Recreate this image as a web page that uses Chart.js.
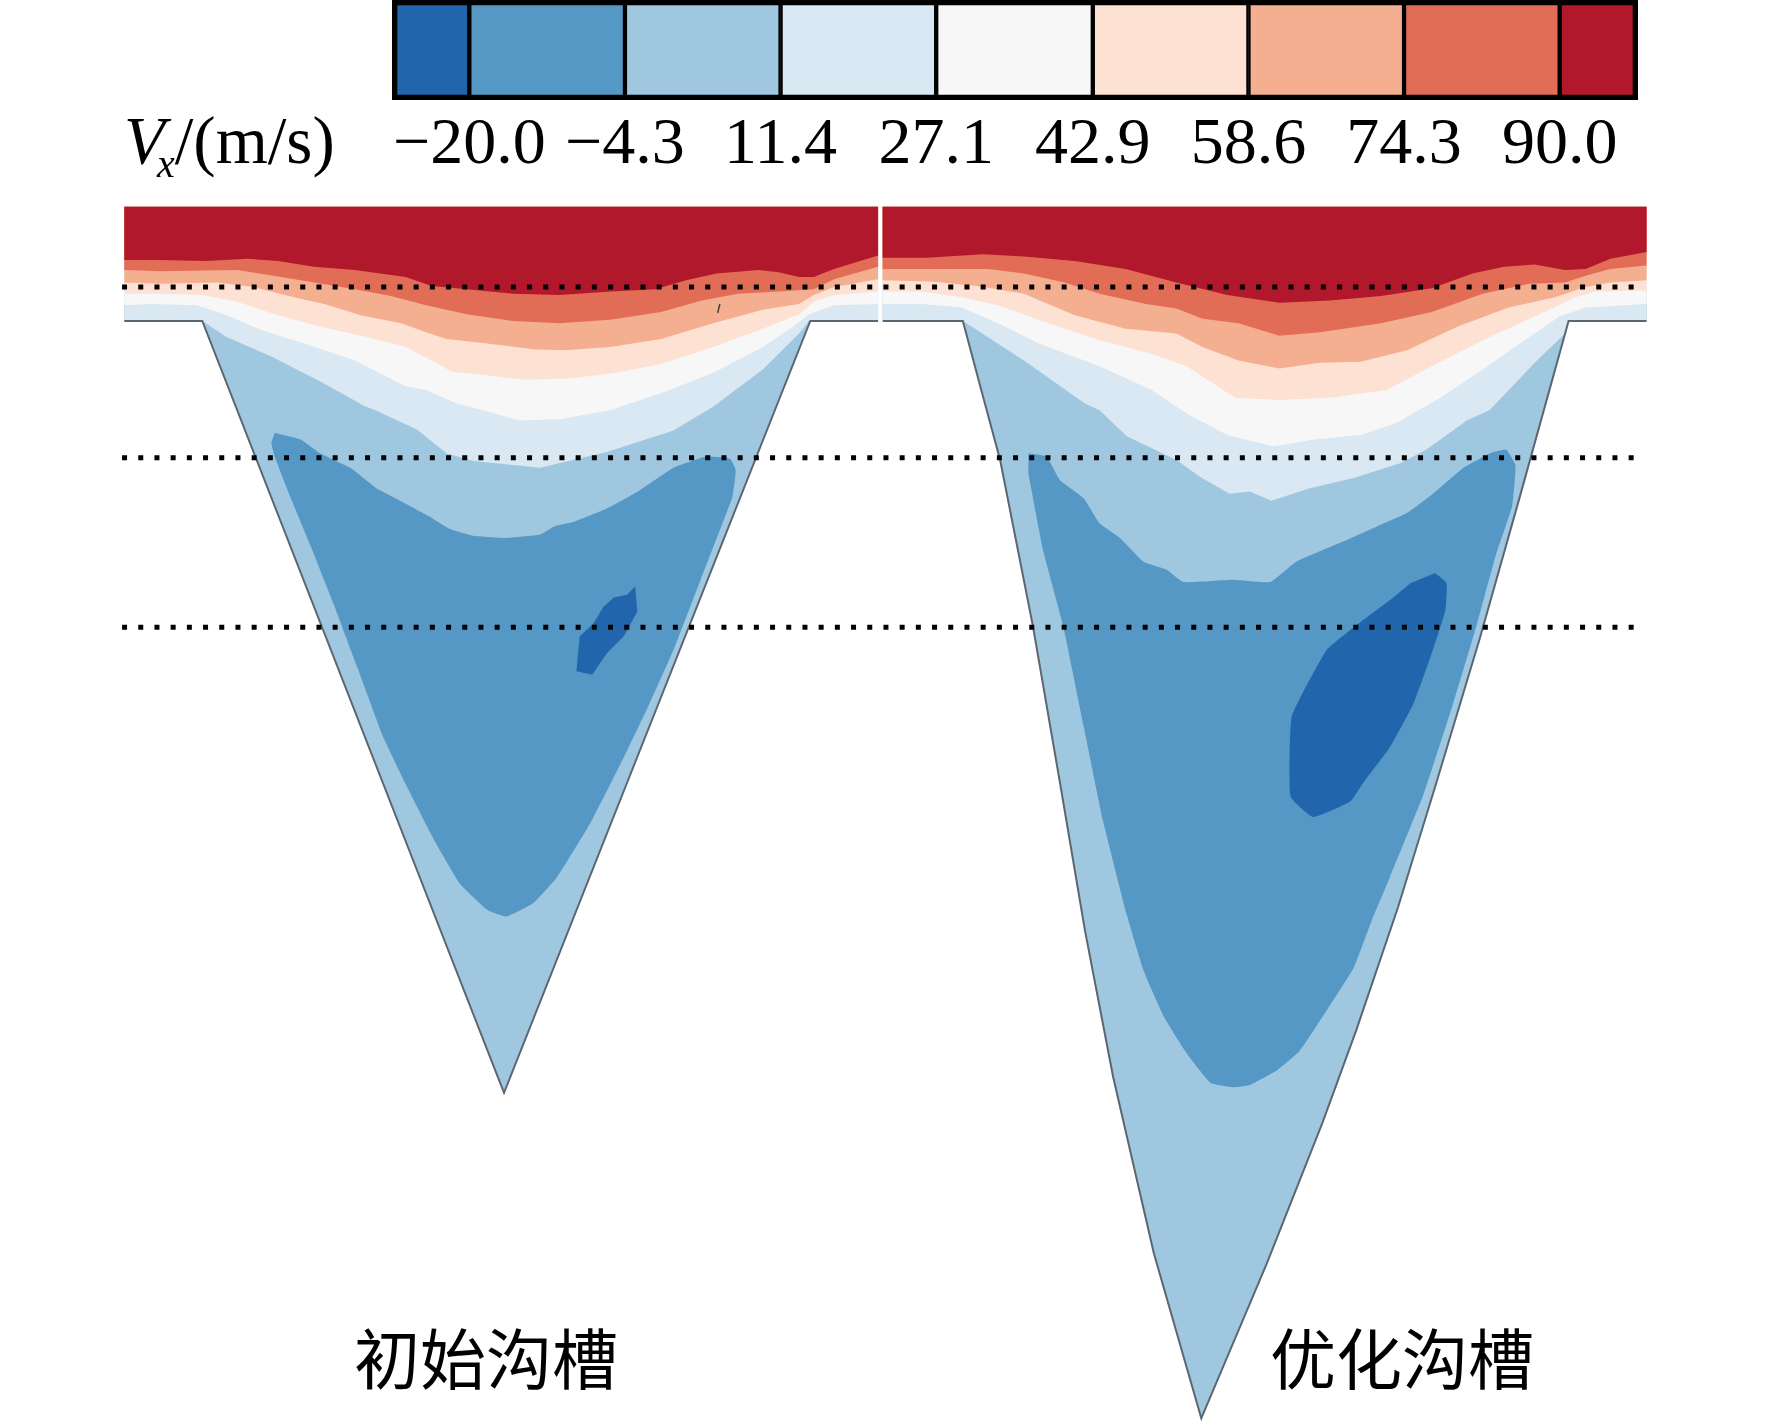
<!DOCTYPE html>
<html>
<head>
<meta charset="utf-8">
<script src="https://cdn.jsdelivr.net/npm/chart.js@4"></script>
<style>
  html, body { margin: 0; padding: 0; background: #fff; }
  #page { position: relative; width: 1772px; height: 1427px; overflow: hidden; }
  canvas { position: absolute; left: 0; top: 0; }
  .txt { position: absolute; white-space: nowrap; color: #000; line-height: 1; }
  .serif { font-family: "Liberation Serif", serif; font-size: 67px; }
  .serif sub { font-size: 40px; line-height: 0; vertical-align: -14px; margin-left: -8px; }
  .cjk { font-family: "Noto Sans CJK SC", sans-serif; font-size: 66px; }
</style>
</head>
<body>
<div id="page">
  <canvas id="contour" width="1772" height="1427"></canvas>
  <canvas id="colorbar" width="1772" height="200"></canvas>
  <div class="txt serif" style="left:124px;top:107px"><i>V</i><sub><i>x</i></sub>/(m/s)</div>
  <div class="txt cjk" style="left:354px;top:1322px">初始沟槽</div>
  <div class="txt cjk" style="left:1270px;top:1322px">优化沟槽</div>
</div>

<script>
// Colour bar: level values and the colour of each band
const barTicks  = [-20.0, -4.3, 11.4, 27.1, 42.9, 58.6, 74.3, 90.0];
const barEdges  = [-27.8, -20.0, -4.3, 11.4, 27.1, 42.9, 58.6, 74.3, 90.0, 97.9];
const barColors = ['#2166ac', '#5597c5', '#9fc7e0', '#d9e8f2', '#f7f7f7', '#fde1d3', '#f4af91', '#e26d56', '#b2182b'];

// Contours: [spanwise position, depth below the wall]
// Initial groove
const wallL = [[110,0],[179,0],[446,683],[717,0],[777,0]];
const redL  = [[110,-54],[142,-54],[182,-53],[219,-55],[246,-53],[278,-48],[314,-45],[359,-39],[382,-31],[413,-28],[454,-24],[495,-23],[540,-26],[580,-28],[607,-36],[634,-42],[671,-45],[689,-43],[707,-39],[720,-39],[738,-46],[777,-58]];
const c1L   = [[110,-45],[142,-44],[210,-45],[242,-40],[278,-34],[314,-28],[346,-22],[377,-14],[413,-6],[454,0],[495,2],[540,-1],[585,-8],[621,-18],[653,-24],[689,-26],[720,-28],[738,-37],[777,-48]];
const c2L   = [[110,-34],[142,-33],[192,-34],[224,-30],[260,-21],[287,-15],[319,-5],[355,2],[377,10],[395,16],[431,20],[472,25],[499,26],[540,23],[585,16],[631,2],[675,-10],[707,-15],[720,-23],[738,-30],[777,-37]];
const c3L   = [[110,-24],[142,-24],[179,-23],[210,-17],[246,-5],[283,5],[323,14],[359,23],[382,35],[400,45],[431,48],[463,52],[504,51],[544,46],[585,38],[631,23],[675,7],[707,-6],[720,-17],[738,-23],[777,-26]];
const c4L   = [[110,-14],[133,-15],[174,-14],[201,-5],[228,7],[269,20],[314,35],[359,58],[377,61],[404,73],[431,80],[459,88],[495,87],[540,79],[585,64],[631,46],[675,23],[702,5],[716,-6],[738,-14],[777,-15]];
const c5L   = [[110,0],[179,0],[200,14],[241,32],[286,55],[322,75],[332,79],[369,96],[395,117],[419,124],[478,130],[507,123],[537,116],[596,97],[631,76],[675,43],[707,11],[716,0],[777,0]];
const c7L   = [[243,99],[266,105],[283,117],[310,130],[333,148],[354,159],[378,172],[398,184],[419,190],[448,192],[478,189],[490,182],[507,178],[537,166],[566,150],[596,130],[625,120],[646,122],[651,132],[648,156],[637,185],[620,229],[596,291],[575,338],[552,386],[522,445],[493,492],[472,515],[448,527],[431,521],[407,498],[384,459],[360,412],[339,368],[316,306],[295,250],[274,197],[257,156],[243,120],[240,108]];
const c8L   = [[562,235],[564,257],[552,279],[537,294],[524,313],[510,310],[513,279],[525,268],[534,253],[543,245],[555,242]];
const speckL = [[637,-15],[635,-7]];

// Optimised groove
const wallR = [[781,0],[852,0],[868,60],[885,123],[914,270],[938,409],[960,539],[985,669],[1021,825],[1063,971],[1121,834],[1170,710],[1200,628],[1237,519],[1270,412],[1310,279],[1345,155],[1388,0],[1457,0]];
const redR  = [[781,-56],[820,-56],[870,-59],[906,-57],[951,-53],[996,-46],[1041,-34],[1086,-23],[1132,-16],[1177,-18],[1222,-22],[1267,-29],[1303,-42],[1331,-48],[1358,-50],[1385,-45],[1403,-46],[1425,-55],[1457,-61]];
const c1R   = [[781,-46],[815,-46],[874,-46],[906,-42],[942,-34],[973,-24],[1014,-15],[1041,-11],[1064,-2],[1096,2],[1132,13],[1168,10],[1222,2],[1267,-8],[1312,-24],[1353,-33],[1385,-34],[1403,-40],[1425,-46],[1457,-49]];
const c2R   = [[781,-36],[824,-35],[865,-31],[906,-24],[951,-5],[996,7],[1041,11],[1064,23],[1096,35],[1132,42],[1168,37],[1204,36],[1245,26],[1290,5],[1335,-12],[1376,-21],[1403,-30],[1425,-34],[1457,-36]];
const c3R   = [[781,-26],[815,-26],[851,-21],[883,-14],[928,2],[973,17],[1019,29],[1050,40],[1073,55],[1093,68],[1132,70],[1177,68],[1227,61],[1267,40],[1312,17],[1358,-4],[1394,-21],[1412,-26],[1457,-27]];
const c4R   = [[781,-15],[815,-15],[851,-12],[883,2],[919,20],[973,40],[1019,61],[1050,82],[1086,101],[1127,111],[1163,105],[1204,101],[1236,90],[1276,67],[1312,43],[1349,17],[1380,-4],[1403,-12],[1457,-15]];
const c5R   = [[781,0],[852,0],[906,35],[960,73],[973,79],[997,102],[1041,123],[1062,138],[1088,153],[1106,151],[1125,159],[1159,148],[1198,139],[1239,126],[1262,114],[1298,88],[1318,79],[1360,35],[1385,11],[1388,0],[1457,0]];
const c7R   = [[910,117],[926,120],[938,141],[959,157],[973,179],[991,192],[1012,213],[1032,220],[1047,231],[1091,229],[1124,231],[1147,213],[1189,195],[1218,182],[1245,170],[1268,153],[1295,130],[1321,116],[1333,114],[1341,128],[1338,164],[1324,206],[1307,268],[1286,338],[1260,418],[1230,492],[1214,530],[1198,572],[1174,610],[1150,646],[1130,663],[1106,676],[1091,678],[1071,674],[1050,648],[1030,616],[1012,575],[997,525],[976,442],[959,359],[941,271],[923,203],[910,135]];
const c8R   = [[1270,223],[1280,232],[1279,256],[1268,291],[1251,338],[1230,377],[1206,409],[1195,425],[1162,439],[1142,421],[1143,350],[1174,291],[1198,271],[1230,247],[1248,232]];

// Sampling lines across both grooves
const probeDepths = [-30, 121, 271];
const probeSpan   = [108, 1450];
const topDepth = -101;

const toPts = list => list.map(([x, y]) => ({ x, y }));

// A band is everything between its lower contour and the top of the domain
const band = line => {
  const xl = line[0][0], xr = line[line.length - 1][0];
  return [...line, [xr, topDepth], [xl, topDepth]];
};

// Paint order: first in this list is at the back
const layers = [
  [band(wallL), barColors[2]], [band(c5L), barColors[3]], [band(c4L), barColors[4]],
  [band(c3L), barColors[5]], [band(c2L), barColors[6]], [band(c1L), barColors[7]],
  [band(redL), barColors[8]], [c7L, barColors[1], 0.12], [c8L, barColors[0]],
  [band(wallR), barColors[2]], [band(c5R), barColors[3]], [band(c4R), barColors[4]],
  [band(c3R), barColors[5]], [band(c2R), barColors[6]], [band(c1R), barColors[7]],
  [band(redR), barColors[8]], [c7R, barColors[1], 0.12], [c8R, barColors[0], 0.12]
];

const contourSets = layers.map(([shape, color, tension]) => ({
  data: toPts(shape), fill: 'shape', backgroundColor: color, tension: tension || 0,
  borderWidth: 0, showLine: true, pointRadius: 0
}));

[wallL, wallR].forEach(w => contourSets.push({
  data: toPts(w), fill: false, borderColor: '#5b6670', borderWidth: 2, showLine: true, pointRadius: 0
}));
contourSets.push({
  data: toPts(speckL), fill: false, borderColor: '#444', borderWidth: 1.5, showLine: true, pointRadius: 0
});
probeDepths.forEach(d => contourSets.push({
  data: toPts(probeSpan.map(x => [x, d])), fill: false, borderColor: '#000',
  borderWidth: 5, borderDash: [5, 11.2], showLine: true, pointRadius: 0
}));
contourSets.forEach((s, i) => { s.order = contourSets.length - i; });

new Chart(document.getElementById('contour'), {
  type: 'scatter',
  data: { datasets: contourSets },
  options: {
    responsive: false,
    animation: false,
    layout: { padding: 0 },
    plugins: { legend: { display: false }, tooltip: { enabled: false } },
    scales: {
      x: { type: 'linear', display: false, min: 0, max: 1568 },
      y: { type: 'linear', display: false, min: -284, max: 978.7, reverse: true }
    }
  }
});

// Colour bar as floating bars on a real value axis
const barSets = barColors.map((c, i) => ({
  data: [[barEdges[i], barEdges[i + 1]]],
  backgroundColor: c, borderColor: '#000', borderWidth: 2.5, borderSkipped: false,
  barPercentage: 1, categoryPercentage: 1, grouped: false, order: 2
}));
barSets.push({
  data: [[barEdges[0], barEdges[barEdges.length - 1]]],
  backgroundColor: 'rgba(0,0,0,0)', borderColor: '#000', borderWidth: 5, borderSkipped: false,
  barPercentage: 1, categoryPercentage: 1, grouped: false, order: 1
});

new Chart(document.getElementById('colorbar'), {
  type: 'bar',
  data: { labels: ['Vx'], datasets: barSets },
  options: {
    indexAxis: 'y',
    responsive: false,
    animation: false,
    layout: { padding: { left: 392, right: 134, top: 0, bottom: 0 } },
    plugins: { legend: { display: false }, tooltip: { enabled: false } },
    scales: {
      y: { display: false },
      x: {
        type: 'linear',
        min: barEdges[0],
        max: barEdges[barEdges.length - 1],
        grid: { display: false, drawTicks: false },
        border: { display: false },
        afterBuildTicks: s => { s.ticks = barTicks.map(value => ({ value })); },
        afterFit: s => { s.height = 100; },
        ticks: {
          autoSkip: false, maxRotation: 0, padding: 6, color: '#000',
          font: { family: '"Liberation Serif", serif', size: 66 },
          callback: v => v.toFixed(1).replace('-', '\u2212')
        }
      }
    }
  }
});
</script>
</body>
</html>
